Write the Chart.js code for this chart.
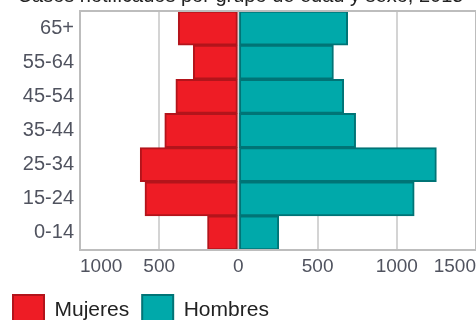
<!DOCTYPE html>
<html>
<head>
<meta charset="utf-8">
<script src="https://cdn.jsdelivr.net/npm/chart.js@4.4.1/dist/chart.umd.min.js"></script>
<style>
  html, body { margin: 0; padding: 0; background: #fff; overflow: hidden; }
  #clip { position: absolute; left: 0; top: 0; width: 476px; height: 320px; overflow: hidden; }
  #wrap { position: absolute; left: 0; top: -19px; width: 481px; height: 355px; }
</style>
</head>
<body>
<div id="clip"><div id="wrap"><canvas id="c" width="481" height="355"></canvas></div></div>
<script>
const titleText = "Casos notificados por grupo de edad y sexo, 2015";
const categories = ["65+", "55-64", "45-54", "35-44", "25-34", "15-24", "0-14"];
const mujeres = [380, 285, 395, 465, 620, 590, 195];
const hombres = [690, 600, 665, 740, 1250, 1110, 255];
const xMin = -1000, xMax = 1500, xStep = 500;

const framePlugin = {
  id: 'frame',
  afterDatasetsDraw(chart) {
    const a = chart.chartArea, ctx = chart.ctx;
    ctx.save();
    ctx.strokeStyle = '#bdbdbd';
    ctx.lineWidth = 2;
    ctx.strokeRect(a.left, a.top, a.right - a.left, a.bottom - a.top);
    ctx.restore();
  }
};

new Chart(document.getElementById('c'), {
  type: 'bar',
  data: {
    labels: categories,
    datasets: [
      { label: 'Mujeres', data: mujeres.map(v => -v), backgroundColor: '#ee1c25', borderColor: '#b3141b', borderWidth: 2, borderSkipped: false },
      { label: 'Hombres', data: hombres, backgroundColor: '#00a9aa', borderColor: '#007476', borderWidth: 2, borderSkipped: false }
    ]
  },
  options: {
    indexAxis: 'y',
    responsive: false,
    animation: false,
    layout: { padding: 0 },
    datasets: { bar: { barPercentage: 1, categoryPercentage: 1 } },
    scales: {
      x: {
        stacked: true,
        min: xMin, max: xMax,
        afterFit: s => { s.height = 32; },
        border: { display: false },
        grid: { color: '#d4d4d4', lineWidth: 2, drawTicks: false },
        ticks: {
          stepSize: xStep, align: 'inner', padding: 5,
          color: '#50535f',
          font: { family: 'Liberation Sans, Arial, sans-serif', size: 19 },
          callback: v => String(Math.abs(v))
        }
      },
      y: {
        stacked: true,
        afterFit: s => { s.width = 80; },
        border: { display: false },
        grid: { display: false, drawTicks: false },
        ticks: {
          padding: 6,
          color: '#50535f',
          font: { family: 'Liberation Sans, Arial, sans-serif', size: 20 }
        }
      }
    },
    plugins: {
      title: {
        display: true, text: titleText, color: '#222',
        font: { family: 'Liberation Sans, Arial, sans-serif', size: 20, weight: 'normal' },
        padding: { top: 3, bottom: 3 }
      },
      legend: {
        position: 'bottom', align: 'start',
        labels: {
          boxWidth: 31, boxHeight: 31, padding: 13, color: '#222',
          font: { family: 'Liberation Sans, Arial, sans-serif', size: 21 },
          useBorderRadius: false
        }
      },
      tooltip: { enabled: false }
    }
  },
  plugins: [framePlugin]
});
</script>
</body>
</html>
